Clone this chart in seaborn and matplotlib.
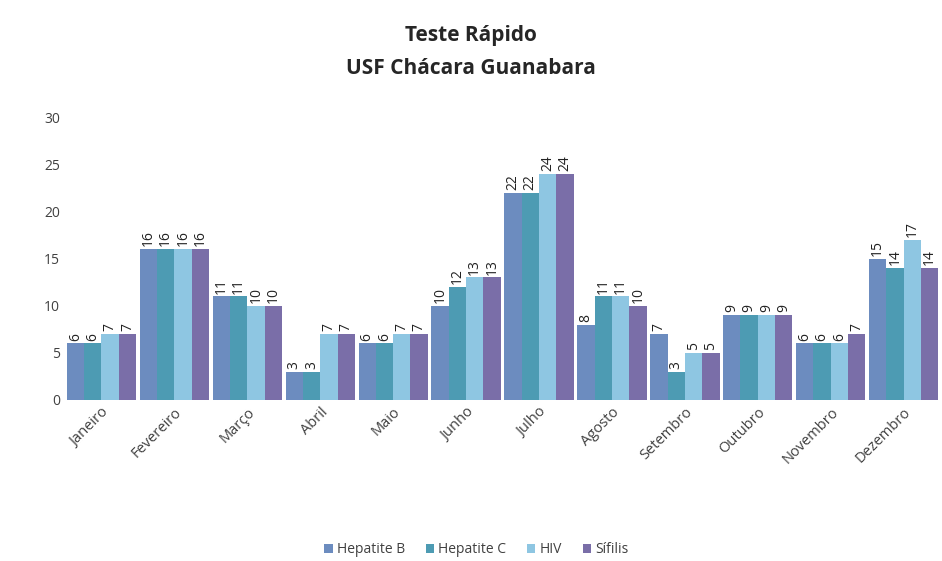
import numpy as np
import pandas as pd
import matplotlib
matplotlib.use("Agg")
import matplotlib.pyplot as plt
import seaborn as sns

meses = ["Janeiro", "Fevereiro", "Março", "Abril", "Maio", "Junho",
         "Julho", "Agosto", "Setembro", "Outubro", "Novembro", "Dezembro"]
series = ["Hepatite B", "Hepatite C", "HIV", "Sífilis"]
hepatite_b = [6, 16, 11, 3, 6, 10, 22, 8, 7, 9, 6, 15]
hepatite_c = [6, 16, 11, 3, 6, 12, 22, 11, 3, 9, 6, 14]
hiv = [7, 16, 10, 7, 7, 13, 24, 11, 5, 9, 6, 17]
sifilis = [7, 16, 10, 7, 7, 13, 24, 10, 5, 9, 7, 14]
cores = ["#6c8cbf", "#4d9bb3", "#8ec6e2", "#7a6ea8"]

df = pd.DataFrame({
    "mes": meses * 4,
    "exame": np.repeat(series, len(meses)),
    "valor": hepatite_b + hepatite_c + hiv + sifilis,
})

sns.set_style("white")
plt.rcParams["font.family"] = ["Open Sans", "DejaVu Sans"]

fig = plt.figure(figsize=(9.42, 5.61), dpi=100)
ax = fig.add_axes([0.069, 0.287, 0.929, 0.504])

sns.barplot(data=df, x="mes", y="valor", hue="exame", order=meses,
            hue_order=series, palette=cores, width=0.95, saturation=1,
            edgecolor="none", ax=ax, legend=True)

for cont in ax.containers:
    ax.bar_label(cont, rotation=90, padding=2, fontsize=10, color="#222222")

ax.set_ylim(0, 30)
ax.set_yticks(range(0, 31, 5))
ax.set_xlim(-0.5, 11.5)
ax.set_xlabel("")
ax.set_ylabel("")
for s in ["top", "right", "left", "bottom"]:
    ax.spines[s].set_visible(False)
ax.tick_params(axis="y", labelsize=10, colors="#404040", length=0)
ax.tick_params(axis="x", labelsize=10.5, colors="#404040", length=0)
plt.setp(ax.get_xticklabels(), rotation=45, ha="right", rotation_mode="anchor")

fig.suptitle("Teste Rápido\nUSF Chácara Guanabara", y=0.955, x=0.5,
             fontsize=15, fontweight="bold", linespacing=1.75)

ax.legend(loc="lower center", bbox_to_anchor=(0.47, -0.60), ncol=4, frameon=False,
          fontsize=10, handlelength=0.6, handleheight=0.6, handletextpad=0.3,
          columnspacing=1.5, labelcolor="#404040")

fig.savefig("out.png", dpi=100)
